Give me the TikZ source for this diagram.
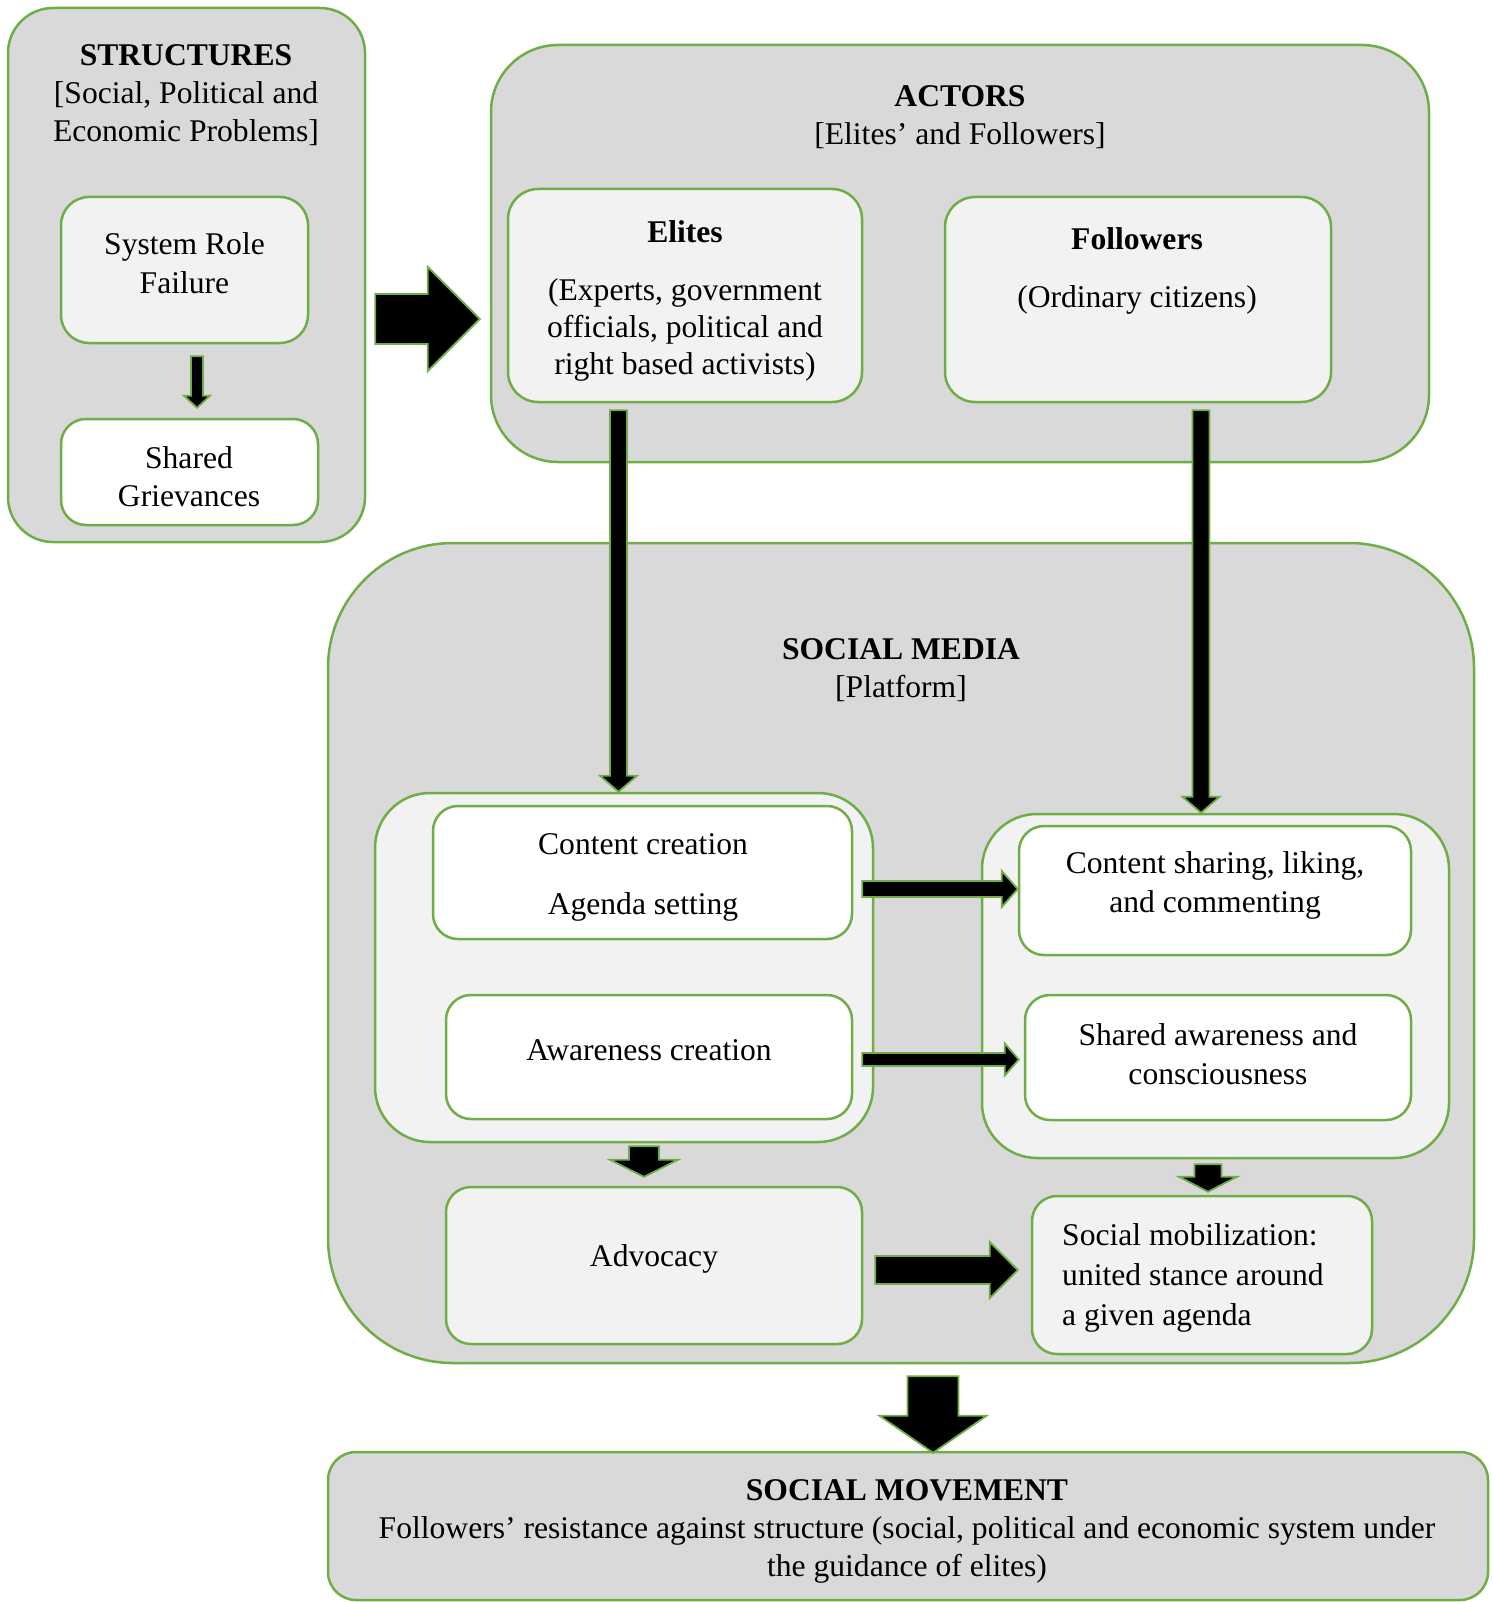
\documentclass[tikz,border=0pt]{standalone}
\usepackage{fontspec}
\setmainfont{Liberation Serif}
\usetikzlibrary{calc}
\definecolor{framegreen}{HTML}{70AD47}
\definecolor{boxgray}{HTML}{D9D9D9}
\definecolor{boxlight}{HTML}{F2F2F2}

% block arrows: from, to, half shaft, half head, head length
\newcommand{\downblock}[5]{%
  \path[blockarrow] let \p1=(#1), \p2=(#2) in
    (\x1-#3pt,\y1) -- (\x1+#3pt,\y1) -- (\x1+#3pt,\y2+#5pt) -- (\x1+#4pt,\y2+#5pt)
    -- (\x1,\y2) -- (\x1-#4pt,\y2+#5pt) -- (\x1-#3pt,\y2+#5pt) -- cycle;}
\newcommand{\rightblock}[5]{%
  \path[blockarrow] let \p1=(#1), \p2=(#2) in
    (\x1,\y1+#3pt) -- (\x2-#5pt,\y1+#3pt) -- (\x2-#5pt,\y1+#4pt) -- (\x2,\y1)
    -- (\x2-#5pt,\y1-#4pt) -- (\x2-#5pt,\y1-#3pt) -- (\x1,\y1-#3pt) -- cycle;}

\begin{document}
\begin{tikzpicture}[x=1pt,y=-1pt,font=\fontsize{31.6}{38}\selectfont,
    container/.style={draw=framegreen,line width=2.5pt,fill=boxgray,rounded corners=#1,inner sep=0pt},
    panel/.style={container=#1,fill=boxlight},
    whitebox/.style={container=#1,fill=white},
    txt/.style={align=center,inner sep=0pt,yshift=-4pt},
    blockarrow/.style={fill=black,draw=framegreen,line width=1.8pt,line join=miter}]
    \useasboundingbox (0,0) rectangle (1492,1602);

    % structures
    \node [container=45pt, minimum width=357pt, minimum height=534pt] (struct) at (186.5,275) {};
    \node [txt] (structTitle) at (186,91.5) {\textbf{STRUCTURES}\\{[}Social, Political and\\Economic Problems{]}};
    \node [panel=28pt, minimum width=247pt, minimum height=146pt] (srf) at (184.5,270) {};
    \node [txt] (srfText) at (184.5,259) {System Role\\[1.5pt]Failure};
    \node [whitebox=25pt, minimum width=257pt, minimum height=106pt] (sg) at (189.5,472) {};
    \node [txt] (sgText) at (189,472.5) {Shared\\Grievances};

    % actors
    \node [container=67pt, minimum width=938pt, minimum height=417pt] (actors) at (960,253.5) {};
    \node [txt] (actorsTitle) at (960,113.5) {\textbf{ACTORS}\\{[}Elites’ and Followers{]}};
    \node [panel=30pt, minimum width=354pt, minimum height=213pt] (elites) at (685,295.5) {};
    \node [txt] (elitesText) at (685,296.5) {\textbf{Elites}\\[20pt](Experts, government\\[-1pt]officials, political and\\[-1pt]right based activists)};
    \node [panel=30pt, minimum width=386pt, minimum height=205pt] (followers) at (1138,299.5) {};
    \node [txt] (followersText) at (1137,267) {\textbf{Followers}\\[20pt](Ordinary citizens)};

    % social media
    \node [container=125pt, minimum width=1146pt, minimum height=820pt] (media) at (901,953) {};
    \node [txt] (mediaTitle) at (901,666) {\textbf{SOCIAL MEDIA}\\{[}Platform{]}};
    \node [panel=55pt, minimum width=498pt, minimum height=349pt] (grpL) at (624,967.5) {};
    \node [panel=55pt, minimum width=467pt, minimum height=344pt] (grpR) at (1215.5,986) {};
    \node [whitebox=25pt, minimum width=419pt, minimum height=133pt] (cc) at (642.5,872.5) {};
    \node [txt] (ccText) at (643,873) {Content creation\\[22pt]Agenda setting};
    \node [whitebox=25pt, minimum width=406pt, minimum height=124pt] (ac) at (649,1057) {};
    \node [txt] (acText) at (649,1046) {Awareness creation};
    \node [whitebox=25pt, minimum width=392pt, minimum height=129pt] (cs) at (1215,890.5) {};
    \node [txt] (csText) at (1215,881) {Content sharing, liking,\\[1pt]and commenting};
    \node [whitebox=25pt, minimum width=386pt, minimum height=125pt] (sa) at (1218,1057.5) {};
    \node [txt] (saText) at (1218,1050.5) {Shared awareness and\\[1pt]consciousness};
    \node [panel=25pt, minimum width=416pt, minimum height=157pt] (adv) at (654,1265.5) {};
    \node [txt] (advText) at (654,1255) {Advocacy};
    \node [panel=25pt, minimum width=340pt, minimum height=158pt] (sm) at (1202,1275) {};
    \node [txt, align=left, anchor=west] (smText) at (1062,1274) {Social mobilization:\\[2pt]united stance around\\[2pt]a given agenda};

    % social movement
    \node [container=28pt, minimum width=1160pt, minimum height=148pt] (movement) at (908,1526) {};
    \node [txt] (movementText) at (907,1527.5) {\textbf{SOCIAL MOVEMENT}\\Followers’ resistance against structure (social, political and economic system under\\the guidance of elites)};

    % arrows
    \rightblock{[xshift=9pt,yshift=-44pt]struct.east}{[xshift=-10pt]actors.west}{25}{52}{52}
    \downblock{[xshift=12.5pt,yshift=-12pt]srf.south}{[yshift=10pt]sg.north}{6}{13}{12}
    \downblock{[xshift=-66.5pt,yshift=-7pt]elites.south}{grpL.north}{8.5}{18.5}{16}
    \downblock{[xshift=63pt,yshift=-7pt]followers.south}{grpR.north}{8.5}{18.5}{16}
    \rightblock{[xshift=9pt,yshift=-16.5pt]cc.east}{cs.west}{8}{18}{16}
    \rightblock{[xshift=9pt,yshift=-2.5pt]ac.east}{[xshift=-5pt]sa.west}{6.5}{16}{14}
    \downblock{[xshift=20pt,yshift=-3pt]grpL.south}{[yshift=9pt]adv.north}{15}{34}{17}
    \downblock{[xshift=-7.5pt,yshift=-5pt]grpR.south}{[yshift=3pt]sm.north}{13.5}{29}{15}
    \rightblock{[xshift=12pt,yshift=-4.5pt]adv.east}{[xshift=-13pt]sm.west}{14}{28}{28}
    \downblock{[xshift=32pt,yshift=-12pt]media.south}{[yshift=-2pt]movement.north}{25.5}{53.5}{37}
\end{tikzpicture}
\end{document}
